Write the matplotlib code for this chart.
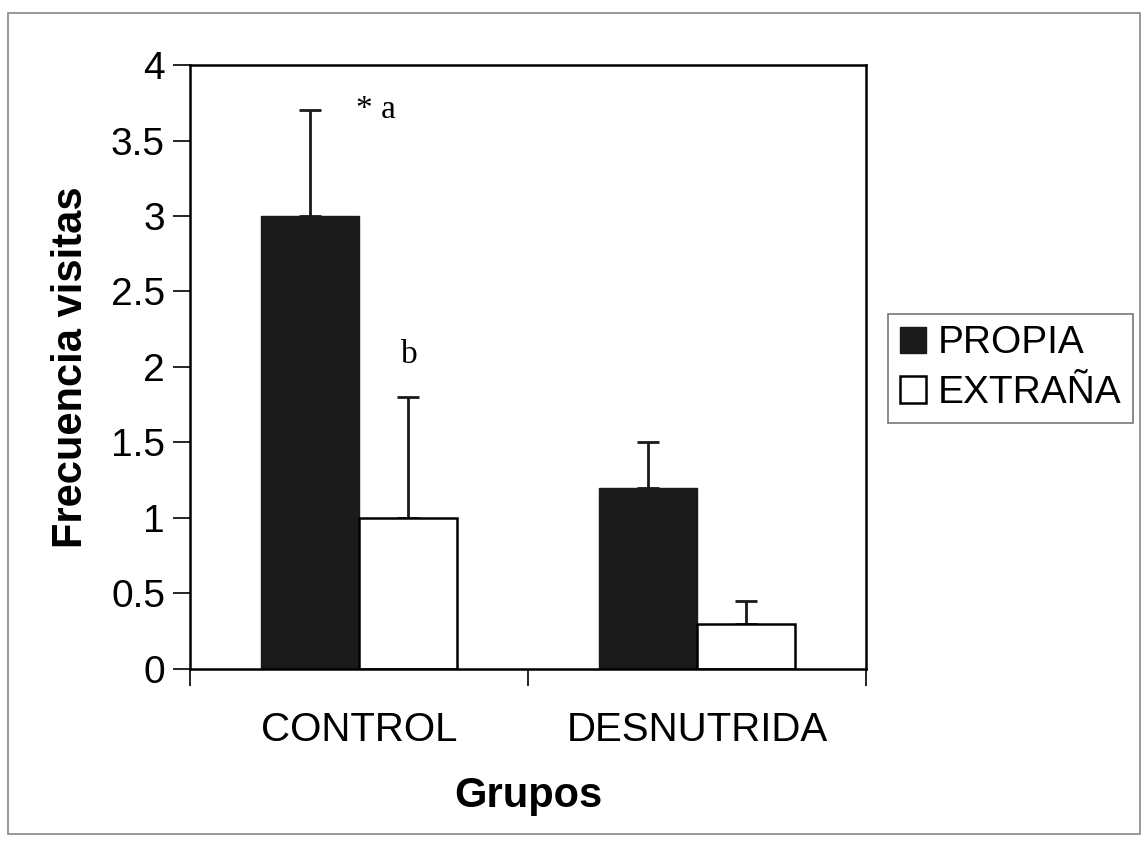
import numpy as np
import matplotlib
matplotlib.use("Agg")
import matplotlib.pyplot as plt
from matplotlib.patches import Rectangle

# datos
grupos = ["CONTROL", "DESNUTRIDA"]
propia = [3.0, 1.2]
propia_err = [0.7, 0.3]
extrana = [1.0, 0.3]
extrana_err = [0.8, 0.15]
y_ticks = [0, 0.5, 1, 1.5, 2, 2.5, 3, 3.5, 4]
y_tick_labels = ["0", "0.5", "1", "1.5", "2", "2.5", "3", "3.5", "4"]

plt.rcParams['font.family'] = ['Liberation Sans', 'DejaVu Sans']

fig = plt.figure(figsize=(11.46, 8.51), dpi=100)
ax = fig.add_axes([0.1658, 0.2139, 0.59, 0.7097])

x = np.arange(len(grupos))
w = 0.29

ax.bar(x - w / 2, propia, w, color='#1a1a1a', edgecolor='#1a1a1a', label='PROPIA', zorder=2)
ax.bar(x + w / 2, extrana, w, color='white', edgecolor='black', linewidth=1.8, label='EXTRAÑA', zorder=2)

# barras de error solo hacia arriba
ax.errorbar(x - w / 2, propia, yerr=[np.zeros(2), propia_err], fmt='none',
            ecolor='#1a1a1a', elinewidth=2, capsize=8, capthick=2, zorder=1)
ax.errorbar(x + w / 2, extrana, yerr=[np.zeros(2), extrana_err], fmt='none',
            ecolor='#1a1a1a', elinewidth=2, capsize=8, capthick=2, zorder=1)

# letras de significancia
ax.text(-0.01, 3.6, "* a", family='Liberation Serif', fontsize=24, ha='left', va='bottom')
ax.text(0.125, 1.98, "b", family='Liberation Serif', fontsize=24, ha='left', va='bottom')

ax.set_xlim(-0.5, 1.5)
ax.set_ylim(0, 4)
ax.set_yticks(y_ticks)
ax.set_yticklabels(y_tick_labels)
ax.set_xticks(x)
ax.set_xticklabels(grupos)
ax.set_xticks([-0.5, 0.5, 1.5], minor=True)
ax.tick_params(axis='x', which='major', length=0, labelsize=29, pad=30)
ax.tick_params(axis='x', which='minor', length=12, width=1.2, direction='out')
ax.tick_params(axis='y', length=12, width=1.2, labelsize=28, pad=6)

for s in ax.spines.values():
    s.set_linewidth(1.8)

ax.set_ylabel("Frecuencia visitas", fontsize=30, fontweight='bold', labelpad=14)
ax.set_xlabel("Grupos", fontsize=30, fontweight='bold', labelpad=20)

leg = ax.legend(loc='center left', bbox_to_anchor=(1.0325, 0.498), fontsize=28,
                frameon=True, fancybox=False, handlelength=0.67, handleheight=0.67,
                handletextpad=0.3, borderpad=0.3, labelspacing=0.35, borderaxespad=0)
leg.get_frame().set_edgecolor('#555555')
leg.get_frame().set_linewidth(1.2)

# marco exterior de la figura
fig.patches.append(Rectangle((0.007, 0.02), 0.988, 0.965, transform=fig.transFigure,
                             fill=False, edgecolor='#888888', linewidth=1.2))

fig.savefig("out.png", dpi=100)
